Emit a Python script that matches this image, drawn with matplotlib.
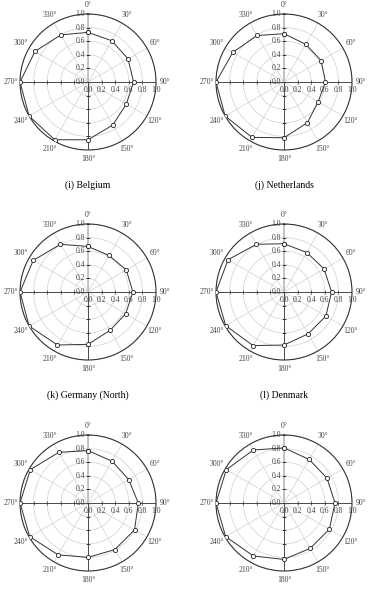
import numpy as np
import matplotlib
matplotlib.use("Agg")
from matplotlib import pyplot as plt

plt.rcParams['font.family'] = ['Liberation Serif', 'DejaVu Serif']

# directions (degrees, clockwise from north)
angles = [0, 30, 60, 90, 120, 150, 180, 210, 240, 270, 300, 330]

belgium = [0.73, 0.70, 0.68, 0.67, 0.65, 0.73, 0.85, 0.98, 1.00, 1.00, 0.90, 0.80]
netherlands = [0.71, 0.64, 0.63, 0.61, 0.58, 0.69, 0.82, 0.94, 1.00, 1.00, 0.87, 0.79]
germany_north = [0.67, 0.62, 0.65, 0.66, 0.64, 0.65, 0.77, 0.90, 1.00, 1.00, 0.93, 0.81]
denmark = [0.71, 0.67, 0.68, 0.70, 0.71, 0.71, 0.78, 0.91, 0.99, 1.00, 0.95, 0.81]
panel_m = [0.77, 0.71, 0.69, 0.74, 0.79, 0.79, 0.80, 0.88, 0.99, 1.00, 0.98, 0.86]
panel_n = [0.81, 0.74, 0.73, 0.75, 0.77, 0.77, 0.83, 0.90, 0.99, 1.00, 0.98, 0.90]

captions = ['(i) Belgium', '(j) Netherlands', '(k) Germany (North)', '(l) Denmark', None, None]
r_ticks = [0.0, 0.2, 0.4, 0.6, 0.8, 1.0]

series = [belgium, netherlands, germany_north, denmark, panel_m, panel_n]

fig = plt.figure(figsize=(3.71, 6.03), dpi=100)

W = 136 / 371.
H = 136 / 603.
lefts = [20 / 371., 216 / 371.]
bottoms = [453 / 603., 243 / 603., 32 / 603.]
cap_y = [418 / 603., 208 / 603.]

tick_col = '#444444'
grid_col = '#d0d0d0'

for i, vals in enumerate(series):
    row, col = i // 2, i % 2
    ax = fig.add_axes([lefts[col], bottoms[row], W, H], projection='polar')
    ax.set_theta_zero_location('N')
    ax.set_theta_direction(-1)
    ax.set_ylim(0, 1.0)

    th = np.deg2rad(angles + [angles[0]])
    r = vals + [vals[0]]

    # grid
    ax.set_rgrids([0.2, 0.4, 0.6, 0.8, 1.0], labels=[])
    ax.set_thetagrids(angles, labels=['%d°' % a for a in angles])
    ax.tick_params(axis='x', pad=-4, labelsize=5.5, colors=tick_col)
    ax.grid(True, color=grid_col, lw=0.5)
    ax.spines['polar'].set_color('#333333')
    ax.spines['polar'].set_linewidth(0.8)

    # axis lines through centre
    ax.plot([0, 0], [0, 1], color='#bbbbbb', lw=1.2, zorder=2)
    for a in [90, 180, 270]:
        ax.plot([np.deg2rad(a)] * 2, [0, 1], color='#333333', lw=0.6, zorder=2)
    tk = [0.2, 0.4, 0.6, 0.8]
    ax.plot([np.deg2rad(90)] * 4, tk, ls='none', marker='|', ms=2.5, mew=0.5, color='#333333', zorder=3)
    ax.plot([np.deg2rad(270)] * 4, tk, ls='none', marker='|', ms=2.5, mew=0.5, color='#333333', zorder=3)
    ax.plot([0] * 5, tk + [1.0], ls='none', marker='_', ms=2.5, mew=0.5, color='#333333', zorder=3)
    ax.plot([np.pi] * 4, tk, ls='none', marker='_', ms=2.5, mew=0.5, color='#333333', zorder=3)

    # radial tick labels along north and east
    for rv in r_ticks:
        ax.annotate('%.1f' % rv, xy=(0, rv), xytext=(-2, 0), textcoords='offset points',
                    ha='right', va='center', fontsize=5.5, color=tick_col)
        ax.annotate('%.1f' % rv, xy=(np.pi / 2, rv), xytext=(0, -3), textcoords='offset points',
                    ha='center', va='top', fontsize=5.5, color=tick_col)

    ax.plot(th, r, color='#333333', lw=0.7, marker='o', ms=3, mfc='white', mec='#222222', mew=0.6, zorder=4)

    if captions[i] and row < 2:
        fig.text(lefts[col] + W / 2, cap_y[row], captions[i], ha='center', va='center', fontsize=7)

fig.savefig('out.png', dpi=100)
